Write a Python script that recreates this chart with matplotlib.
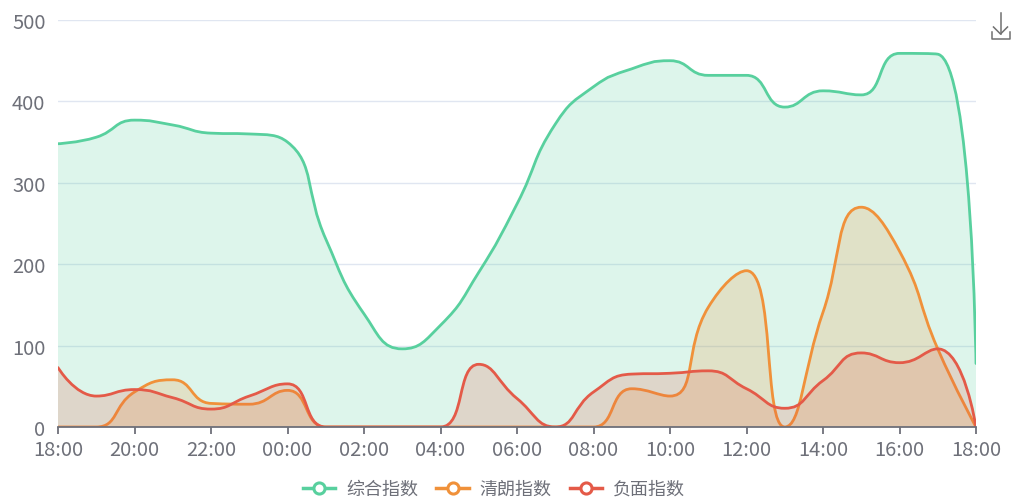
import numpy as np
import matplotlib.pyplot as plt
from matplotlib.path import Path
from matplotlib.patches import PathPatch
from matplotlib.lines import Line2D

plt.rcParams['font.family'] = ['Noto Sans CJK SC', 'DejaVu Sans']

# hourly values, 18:00 -> 18:00 next day
hours = np.arange(25)
zonghe = [348, 356, 377, 371, 361, 360, 350, 231, 139, 96, 125, 190, 274, 372,
          418, 440, 450, 432, 432, 393, 413, 408, 459, 458, 78]
qinglang = [0, 0, 43, 58, 29, 28, 45, 0, 0, 0, 0, 0, 0, 0,
            0, 47, 38, 147, 192, 0, 141, 270, 216, 96, 0]
fumian = [73, 38, 46, 36, 22, 38, 53, 0, 0, 0, 0, 77, 35, 0,
          43, 65, 66, 69, 47, 23, 57, 91, 79, 96, 0]
names = ['综合指数', '清朗指数', '负面指数']
colors = ['#58d09e', '#f0913a', '#e45a48']
tick_labels = ['18:00', '20:00', '22:00', '00:00', '02:00', '04:00', '06:00',
               '08:00', '10:00', '12:00', '14:00', '16:00', '18:00']

W, H = 1016, 502
left, right, top, bottom = 58, 976, 21, 428
SX = (right - left) / 24.0
SY = (bottom - top) / 500.0


def smooth_verts(xs, ys, smooth=0.5):
    # bezier smoothing in the same way echarts does it (pixel space)
    px = np.asarray(xs, float) * SX
    py = np.asarray(ys, float) * SY
    n = len(px)
    verts = [(px[0], py[0])]
    codes = [Path.MOVETO]
    cx0, cy0 = px[0], py[0]
    for i in range(1, n):
        x, y = px[i], py[i]
        prx, pry = px[i - 1], py[i - 1]
        if i + 1 >= n:
            cx1, cy1 = x, y
            ncx, ncy = x, y
        else:
            nx, ny = px[i + 1], py[i + 1]
            vx, vy = nx - prx, ny - pry
            lp = np.hypot(x - prx, y - pry)
            ln = np.hypot(nx - x, ny - y)
            r = ln / (ln + lp)
            ncx = x + vx * smooth * r
            ncy = y + vy * smooth * r
            ncx = min(max(ncx, min(nx, x)), max(nx, x))
            ncy = min(max(ncy, min(ny, y)), max(ny, y))
            vx, vy = ncx - x, ncy - y
            cx1 = x - vx * lp / ln
            cy1 = y - vy * lp / ln
            cx1 = min(max(cx1, min(prx, x)), max(prx, x))
            cy1 = min(max(cy1, min(pry, y)), max(pry, y))
            vx, vy = x - cx1, y - cy1
            ncx = x + vx * ln / lp
            ncy = y + vy * ln / lp
        verts += [(cx0, cy0), (cx1, cy1), (x, y)]
        codes += [Path.CURVE4] * 3
        cx0, cy0 = ncx, ncy
    verts = [(a / SX, b / SY) for a, b in verts]
    return verts, codes


fig = plt.figure(figsize=(W / 100, H / 100), dpi=100)
ax = fig.add_axes([left / W, 1 - bottom / H, (right - left) / W, (bottom - top) / H])

for vals, c in zip([zonghe, qinglang, fumian], colors):
    v, cd = smooth_verts(hours, vals)
    fv = v + [(hours[-1], 0), (hours[0], 0), v[0]]
    fc = cd + [Path.LINETO, Path.LINETO, Path.CLOSEPOLY]
    ax.add_patch(PathPatch(Path(fv, fc), facecolor=c, alpha=0.2, edgecolor='none', lw=0))
    ax.add_patch(PathPatch(Path(v, cd), facecolor='none', edgecolor=c, lw=2.0,
                           capstyle='round', joinstyle='round'))

ax.set_xlim(0, 24)
ax.set_ylim(0, 500)
ax.set_yticks([0, 100, 200, 300, 400, 500])
ax.set_xticks(range(0, 25, 2))
ax.set_xticklabels(tick_labels)
for s in ['top', 'right', 'left']:
    ax.spines[s].set_visible(False)
ax.spines['bottom'].set_color('#6e7079')
ax.spines['bottom'].set_linewidth(1.3)
ax.grid(axis='y', color='#e0e6f1', lw=1.0)
ax.set_axisbelow(True)
ax.tick_params(axis='y', length=0, pad=9, labelsize=14.5, labelcolor='#6e7079')
ax.tick_params(axis='x', length=5, width=1.3, color='#6e7079', pad=4,
               labelsize=14.5, labelcolor='#6e7079')

handles = [Line2D([], [], color=c, lw=2.5, marker='o', markersize=8,
                  markerfacecolor='white', markeredgewidth=2.2) for c in colors]
fig.legend(handles, names, loc='center', bbox_to_anchor=(494 / W, 1 - 490 / H),
           ncol=3, frameon=False, fontsize=13, labelcolor='#6e7079',
           handlelength=1.8, handletextpad=0.6, columnspacing=1.0)

# download icon in the corner
def px_line(xs, ys):
    fig.add_artist(Line2D([a / W for a in xs], [1 - b / H for b in ys],
                          transform=fig.transFigure, color='#707070', lw=1.1))

px_line([1000.5, 1000.5], [14, 35])
px_line([993.5, 1000.5, 1007.5], [28, 35, 28])
px_line([991.5, 991.5, 1009.5, 1009.5], [33, 40, 40, 33])

fig.savefig('out.png', dpi=100)
